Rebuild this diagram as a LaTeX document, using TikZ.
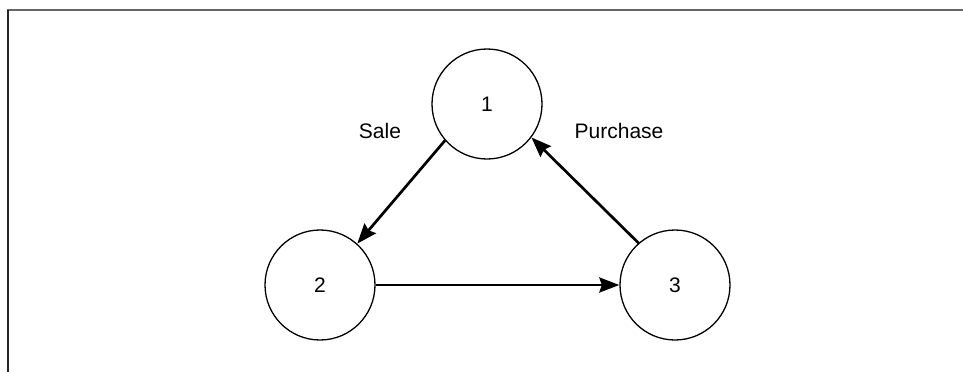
\documentclass[tikz,border=0pt]{standalone}
\usepackage{fontspec}
\setmainfont{Liberation Sans}
\usetikzlibrary{arrows.meta}
\begin{document}
\begin{tikzpicture}[x=1pt,y=-1pt,
  state/.style={circle,draw=black,line width=1.3pt,minimum size=110pt,inner sep=0pt,font=\fontsize{21}{24}\selectfont},
  conn/.style={line width=2.7pt,-{Stealth[length=20pt,width=15pt,inset=2.5pt]}},
  lbl/.style={font=\fontsize{21}{24}\selectfont,inner sep=0pt}]
\useasboundingbox (0,0) rectangle (963,372);
\fill[white] (0,0) rectangle (963,372);
\draw[gray!80!black,line width=2pt] (7,10) -- (963,10);
\draw[black!85,line width=2pt] (8,10) -- (8,372);
\node[state] (n1) at (487,104) {1};
\node[state] (n2) at (320,285) {2};
\node[state] (n3) at (675,285) {3};
\node[lbl] (sale) at (380,131) {Sale};
\node[lbl] (purchase) at (619,131) {Purchase};
\draw[conn] (n1.221) -- (n2.48);
\draw[conn] (n2.east) -- (n3.west);
\draw[conn] (n3.131) -- (n1.323);
\end{tikzpicture}
\end{document}
